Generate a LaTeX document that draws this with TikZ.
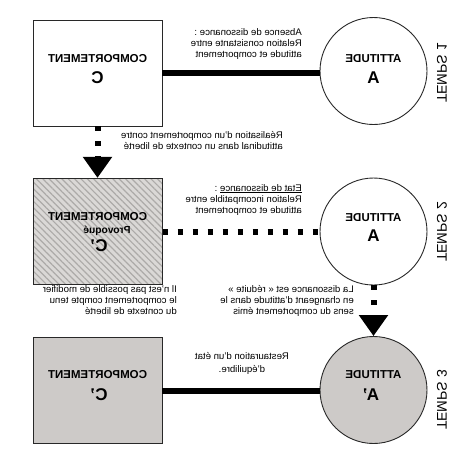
\documentclass[tikz,border=0pt]{standalone}
\usepackage{fontspec}
\setmainfont{Liberation Sans}
\usepackage{graphicx}
\usetikzlibrary{arrows.meta,patterns.meta}
\definecolor{edge}{RGB}{40,40,40}
\definecolor{gfill}{RGB}{205,202,200}
\definecolor{hbg}{RGB}{218,216,214}
\definecolor{hfg}{RGB}{172,170,168}
\newcommand\mtxt[1]{\reflectbox{\begin{tabular}{@{}l@{}}#1\end{tabular}}}
\newcommand\ctxt[1]{\reflectbox{\begin{tabular}{@{}c@{}}#1\end{tabular}}}
\begin{document}
\begin{tikzpicture}[x=1pt,y=-1pt,
 box/.style={draw=edge,line width=0.9pt,minimum width=129pt,minimum height=106pt,inner sep=0pt},
 ring/.style={circle,draw=edge,line width=0.9pt,minimum size=107pt,inner sep=0pt},
 lbl/.style={inner sep=0pt,font=\fontsize{9.6}{11}\selectfont},
 bigword/.style={inner sep=0pt,font=\fontsize{11.5}{13}\selectfont\bfseries},
 bigletter/.style={inner sep=0pt,font=\fontsize{17}{19}\selectfont\bfseries},
 tlabel/.style={inner sep=0pt,rotate=-90,font=\fontsize{14}{16}\selectfont},
 solidlink/.style={line width=6pt},
 dotlink/.style={line width=6pt,dash pattern=on 5pt off 10pt},
 tip/.style={-{Triangle[length=21pt,width=28pt]}}
]
\useasboundingbox[fill=white] (0,0) rectangle (460,467);

% ---- TEMPS 1
\node[box,fill=white] (C1) at (97.5,73) {};
\node[ring,fill=white] (A1) at (373.5,71) {};
\node[bigword] (C1w) at (97.5,59) {\reflectbox{COMPORTEMENT}};
\node[bigletter] (C1l) at (97.5,78) {\reflectbox{C}};
\node[bigword] (A1w) at (373.5,59) {\reflectbox{ATTITUDE}};
\node[bigletter] (A1l) at (373.5,78) {\reflectbox{A}};
\node[tlabel] (T1) at (442,73) {\reflectbox{TEMPS 1}};
\node[lbl,anchor=east] (L1) at (302,44) {\mtxt{Absence de dissonance :\\Relation consistante entre\\attitude et comportement}};
\draw[solidlink] (C1.east) -- (C1.east -| A1.west);

\node[lbl,anchor=east] (L2) at (283,141.5) {\mtxt{Réalisation d'un comportement contre\\attitudinal dans un contexte de liberté}};

% ---- TEMPS 2
\node[box,preaction={fill=hbg},pattern={Lines[angle=-45,distance=4.5pt,line width=1.2pt]},pattern color=hfg] (C2) at (97.5,231.5) {};
\node[ring,fill=white] (A2) at (373.5,231.5) {};
\node[bigword] (C2w) at (97.5,217) {\reflectbox{COMPORTEMENT}};
\node[inner sep=0pt,font=\fontsize{10.2}{12}\selectfont\bfseries] (C2p) at (107,231) {\reflectbox{Provoqué}};
\node[bigletter] (C2l) at (99,246) {\reflectbox{C’}};
\node[bigword] (A2w) at (373.5,218) {\reflectbox{ATTITUDE}};
\node[bigletter] (A2l) at (373.5,236) {\reflectbox{A}};
\node[tlabel] (T2) at (442,232) {\reflectbox{TEMPS 2}};
\node[lbl,anchor=east] (L3) at (302,200) {\mtxt{\underline{Etat de dissonance} :\\Relation incompatible entre\\attitude et comportement}};
\node[lbl,anchor=east] (L4) at (177,301) {\mtxt{Il n'est pas possible de modifier\\le comportement compte tenu\\du contexte de liberté}};
\node[lbl,anchor=east] (L5) at (354,301) {\mtxt{La dissonance est « réduite »\\en changeant d'attitude dans le\\sens du comportement émis}};
\draw[dotlink] (C2.east) -- (A2.west);

% ---- TEMPS 3
\node[box,fill=gfill] (C3) at (97.5,390.5) {};
\node[ring,fill=gfill] (A3) at (373.5,390) {};
\node[bigword] (C3w) at (97.5,375) {\reflectbox{COMPORTEMENT}};
\node[bigletter] (C3l) at (99,395) {\reflectbox{C’}};
\node[bigword] (A3w) at (373.5,375) {\reflectbox{ATTITUDE}};
\node[bigletter] (A3l) at (371,395) {\reflectbox{A’}};
\node[tlabel] (T3) at (442,400) {\reflectbox{TEMPS 3}};
\node[inner sep=0pt,font=\fontsize{9.6}{13}\selectfont] (L6) at (242,363.5) {\ctxt{Restauration d'un état\\d'équilibre.}};
\draw[solidlink] (C3.east) -- (C3.east -| A3.west);

% ---- vertical links
\draw[dotlink,tip] (C1.south) -- (C2.north);
\draw[dotlink,tip] (A2.south) -- (A3.north);
\end{tikzpicture}
\end{document}
